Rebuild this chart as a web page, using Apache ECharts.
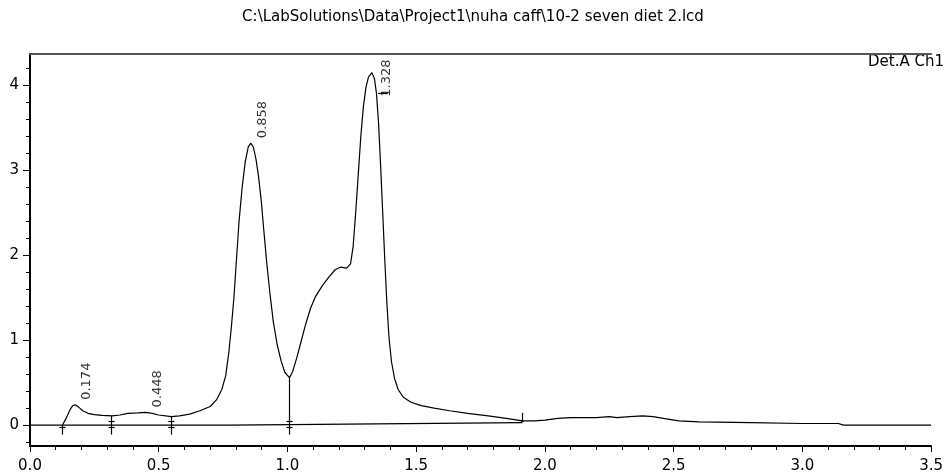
<!DOCTYPE html>
<html>
<head>
<meta charset="utf-8">
<script src="https://cdn.jsdelivr.net/npm/echarts@6/dist/echarts.min.js"></script>
<style>
    html, body { margin: 0; padding: 0; background: #fff; }
    #chart { width: 946px; height: 475px; }
</style>
</head>
<body>
<div id="chart"></div>
<script>
// chromatogram data
const titleText = 'C:\\LabSolutions\\Data\\Project1\\nuha caff\\10-2 seven diet 2.lcd'
const channelName = 'Det.A Ch1'

const yTicks = [0, 1, 2, 3, 4]
const yMinorTicks = [-0.2, 0, 0.2, 0.4, 0.6, 0.8, 1, 1.2, 1.4, 1.6, 1.8, 2, 2.2, 2.4, 2.6, 2.8, 3, 3.2, 3.4, 3.6, 3.8, 4, 4.2]

const times = [
    0.126, 0.140, 0.155, 0.166, 0.176, 0.190, 0.205, 0.225, 0.250, 0.280,
    0.320, 0.350, 0.380, 0.420, 0.448, 0.475, 0.500, 0.549, 0.580, 0.620,
    0.660, 0.700, 0.725, 0.745, 0.760, 0.772, 0.782, 0.792, 0.802, 0.812,
    0.824, 0.836, 0.848, 0.858, 0.868, 0.878, 0.888, 0.898, 0.908, 0.920,
    0.932, 0.945, 0.960, 0.975, 0.990, 1.008, 1.020, 1.035, 1.050, 1.070,
    1.090, 1.110, 1.135, 1.160, 1.185, 1.205, 1.230, 1.245, 1.255, 1.265,
    1.275, 1.285, 1.295, 1.305, 1.315, 1.328, 1.338, 1.346, 1.354, 1.362,
    1.370, 1.378, 1.386, 1.394, 1.404, 1.416, 1.430, 1.450, 1.480, 1.520,
    1.570, 1.630, 1.700, 1.780, 1.850, 1.912, 1.960, 2.000, 2.050, 2.100,
    2.200, 2.250, 2.280, 2.330, 2.380, 2.420, 2.460, 2.520, 2.600, 2.800,
    3.000, 3.140, 3.160, 3.500
]
const signal = [
    0.00, 0.08, 0.18, 0.23, 0.24, 0.21, 0.17, 0.14, 0.125, 0.115,
    0.11, 0.12, 0.14, 0.145, 0.15, 0.14, 0.12, 0.10, 0.11, 0.13,
    0.17, 0.22, 0.30, 0.42, 0.58, 0.85, 1.15, 1.50, 1.95, 2.40,
    2.80, 3.10, 3.28, 3.32, 3.27, 3.13, 2.92, 2.65, 2.30, 1.90,
    1.55, 1.22, 0.95, 0.76, 0.62, 0.56, 0.63, 0.78, 0.95, 1.18,
    1.38, 1.52, 1.64, 1.74, 1.83, 1.86, 1.85, 1.90, 2.10, 2.50,
    2.95, 3.40, 3.75, 3.98, 4.10, 4.15, 4.08, 3.90, 3.55, 3.05,
    2.50, 1.95, 1.45, 1.05, 0.75, 0.55, 0.42, 0.33, 0.27, 0.23,
    0.20, 0.17, 0.14, 0.11, 0.08, 0.05, 0.05, 0.06, 0.08, 0.09,
    0.09, 0.10, 0.09, 0.10, 0.11, 0.10, 0.08, 0.05, 0.04, 0.03,
    0.02, 0.02, 0.00, 0.00
]

// integration baseline
const baseTimes = [0, 0.78, 0.78, 1.912]
const baseValues = [0, 0, 0.02, 0.03]

// peaks with retention time labels
const peakTimes = [0.174, 0.448, 0.858, 1.328]
const peakHeights = [0.24, 0.15, 3.32, 4.15]

// peak start / end cuts
const cutTimes = [0.126, 0.317, 0.549, 1.008]
const cutTops = [0, 0.11, 0.10, 0.56]
const endTime = 1.912
const endTop = 0.145
const endBottom = 0.05

const chart = echarts.init(document.getElementById('chart'))

const seg = (x1, y1, x2, y2) => [{ coord: [x1, y1] }, { coord: [x2, y2] }]
const marks = []
cutTimes.forEach((t, i) => {
    marks.push(seg(t, cutTops[i], t, -0.11))
    if (i > 0) marks.push(seg(t - 0.012, 0.045, t + 0.012, 0.045))
    marks.push(seg(t - 0.012, -0.02, t + 0.012, -0.02))
})
marks.push(seg(endTime, endTop, endTime, endBottom))
marks.push(seg(1.352, 3.91, 1.39, 3.91))

const font = 'DejaVu Sans'

chart.setOption({
    animation: false,
    title: {
        text: titleText,
        left: 'center',
        top: 5,
        textStyle: { fontSize: 15, fontWeight: 'normal', color: '#000', fontFamily: font }
    },
    graphic: [{
        type: 'text',
        right: 2,
        top: 55,
        style: { text: channelName, font: '15px "DejaVu Sans"', fill: '#000' }
    }],
    grid: { left: 30, right: 2, top: 54, bottom: 29 },
    xAxis: [{
        type: 'value',
        min: 0,
        max: 3.5,
        interval: 0.5,
        axisLine: { onZero: false, lineStyle: { color: '#000', width: 2 } },
        axisTick: { length: 6, lineStyle: { color: '#000' } },
        minorTick: { show: true, splitNumber: 5, length: 4, lineStyle: { color: '#000' } },
        splitLine: { show: false },
        axisLabel: { formatter: v => v.toFixed(1), margin: 13, fontSize: 15, color: '#000', fontFamily: font }
    }, {
        type: 'value',
        position: 'top',
        min: 0,
        max: 3.5,
        axisLine: { onZero: false, lineStyle: { color: '#555', width: 2 } },
        axisTick: { show: false },
        axisLabel: { show: false },
        splitLine: { show: false }
    }],
    yAxis: [{
        type: 'value',
        min: -0.245,
        max: 4.37,
        axisLine: { show: true, onZero: false, lineStyle: { color: '#000', width: 2 } },
        axisTick: { show: true, customValues: yTicks, length: 7, lineStyle: { color: '#000' } },
        axisLabel: { customValues: yTicks, margin: 11, fontSize: 15, color: '#000', fontFamily: font },
        splitLine: { show: false }
    }, {
        type: 'value',
        position: 'left',
        min: -0.245,
        max: 4.37,
        axisLine: { show: false, onZero: false },
        axisTick: { show: true, customValues: yMinorTicks, length: 4, lineStyle: { color: '#000' } },
        axisLabel: { show: false },
        splitLine: { show: false }
    }],
    series: [{
        name: 'signal',
        type: 'line',
        data: times.map((t, i) => [t, signal[i]]),
        showSymbol: false,
        lineStyle: { color: '#000', width: 1.2 },
        markLine: {
            silent: true,
            symbol: ['none', 'none'],
            label: { show: false },
            lineStyle: { color: '#000', width: 1.2, type: 'solid' },
            data: marks
        }
    }, {
        name: 'baseline',
        type: 'line',
        data: baseTimes.map((t, i) => [t, baseValues[i]]),
        showSymbol: false,
        lineStyle: { color: '#000', width: 1.2 }
    }, {
        name: 'peaks',
        type: 'scatter',
        symbolSize: 1,
        itemStyle: { color: 'rgba(0,0,0,0)' },
        data: peakTimes.map((t, i) => ({
            value: [t, peakHeights[i]],
            // the last label sits lower, under the top border
            label: i === peakTimes.length - 1 ? { offset: [-24, 15] } : undefined
        })),
        label: {
            show: true,
            formatter: p => p.value[0].toFixed(3),
            position: 'inside',
            rotate: 90,
            align: 'left',
            verticalAlign: 'middle',
            offset: [5, 12],
            fontSize: 13,
            color: '#000',
            fontFamily: font
        }
    }, {
        name: 'end',
        type: 'scatter',
        symbolSize: 3,
        itemStyle: { color: '#000' },
        data: [[endTime, endBottom]]
    }]
})
</script>
</body>
</html>
